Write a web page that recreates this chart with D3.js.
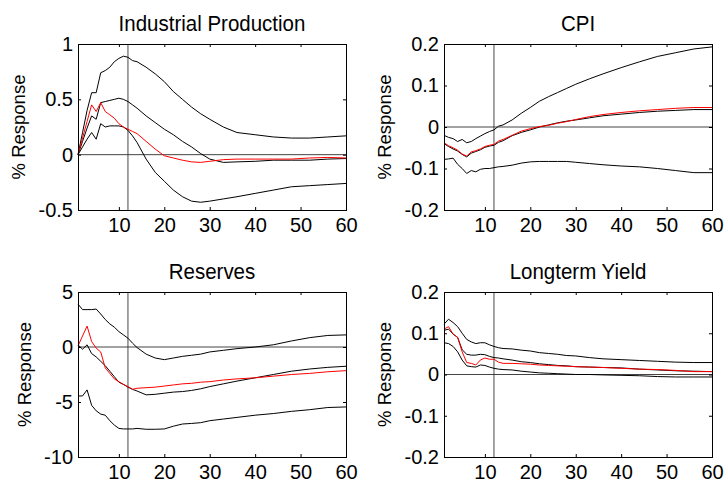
<!DOCTYPE html>
<html>
<head>
<meta charset="utf-8">
<script src="https://cdn.jsdelivr.net/npm/d3@7"></script>
<style>
  body { margin: 0; background: #fff; }
  svg text { font-family: "Liberation Sans", Arial, sans-serif; fill: #000; }
</style>
</head>
<body>
<div id="chart"></div>
<script>
var steps = [1,2,3,4,5,6,7,8,9,10,11,12,13,14,16,18,20,22,24,26,28,30,33,36,40,44,48,52,56,60];

var titles = ["Industrial Production", "CPI", "Reserves", "Longterm Yield"];
var xTicks = [10, 20, 30, 40, 50, 60];
var markLine = 12;

// y ticks per panel
var ipTicks = [-0.5, 0, 0.5, 1],        ipTickLabels = ["-0.5", "0", "0.5", "1"];
var cpiTicks = [-0.2, -0.1, 0, 0.1, 0.2], cpiTickLabels = ["-0.2", "-0.1", "0", "0.1", "0.2"];
var resTicks = [-10, -5, 0, 5],          resTickLabels = ["-10", "-5", "0", "5"];
var ltyTicks = [-0.2, -0.1, 0, 0.1, 0.2], ltyTickLabels = ["-0.2", "-0.1", "0", "0.1", "0.2"];

// Industrial Production
var ipUpper  = [0,0.2,0.4,0.56,0.56,0.74,0.76,0.79,0.84,0.87,0.89,0.88,0.85,0.84,0.79,0.73,0.66,0.57,0.5,0.43,0.37,0.32,0.25,0.2,0.18,0.16,0.15,0.15,0.16,0.17];
var ipMedian = [0,0.12,0.24,0.35,0.32,0.47,0.48,0.49,0.5,0.51,0.5,0.48,0.45,0.42,0.35,0.29,0.23,0.18,0.12,0.07,0.01,-0.04,-0.07,-0.065,-0.06,-0.05,-0.05,-0.05,-0.04,-0.035];
var ipLower  = [0,0.07,0.14,0.2,0.14,0.28,0.25,0.26,0.26,0.26,0.25,0.22,0.17,0.11,-0.04,-0.16,-0.24,-0.32,-0.38,-0.42,-0.43,-0.42,-0.4,-0.38,-0.35,-0.32,-0.29,-0.28,-0.27,-0.26];
var ipRed    = [0,0.15,0.3,0.45,0.39,0.47,0.39,0.36,0.33,0.28,0.25,0.23,0.21,0.19,0.12,0.05,-0.01,-0.03,-0.05,-0.065,-0.07,-0.06,-0.045,-0.04,-0.04,-0.04,-0.04,-0.03,-0.025,-0.03];

// CPI
var cpiUpper  = [-0.02,-0.025,-0.028,-0.035,-0.03,-0.038,-0.035,-0.028,-0.022,-0.016,-0.011,-0.007,0.002,0.005,0.017,0.033,0.047,0.062,0.073,0.083,0.093,0.103,0.116,0.128,0.143,0.157,0.17,0.179,0.188,0.193];
var cpiMedian = [-0.04,-0.047,-0.053,-0.058,-0.066,-0.072,-0.063,-0.059,-0.055,-0.049,-0.046,-0.044,-0.037,-0.033,-0.021,-0.013,-0.007,0,0.005,0.01,0.014,0.017,0.022,0.027,0.031,0.035,0.038,0.04,0.042,0.042];
var cpiLower  = [-0.078,-0.077,-0.075,-0.09,-0.1,-0.112,-0.105,-0.108,-0.102,-0.1,-0.1,-0.098,-0.096,-0.095,-0.092,-0.087,-0.084,-0.083,-0.083,-0.083,-0.083,-0.085,-0.088,-0.091,-0.094,-0.096,-0.1,-0.105,-0.11,-0.11];
var cpiRed    = [-0.038,-0.045,-0.05,-0.056,-0.065,-0.07,-0.06,-0.057,-0.053,-0.047,-0.044,-0.042,-0.034,-0.03,-0.02,-0.01,-0.004,0.001,0.004,0.009,0.013,0.018,0.025,0.03,0.035,0.039,0.042,0.045,0.047,0.047];

// Reserves
var resUpper  = [3.9,3.4,3.4,3.4,3.45,3.0,2.5,2.1,1.8,1.4,1.1,0.8,0.35,-0.05,-0.65,-1.0,-1.15,-1.0,-0.85,-0.75,-0.65,-0.45,-0.3,-0.15,0,0.2,0.55,0.85,1.05,1.1];
var resMedian = [0.2,-0.2,0.2,-0.6,-0.9,-1.3,-1.7,-2.2,-2.7,-3.2,-3.4,-3.65,-3.85,-4.0,-4.35,-4.3,-4.2,-4.1,-4.05,-3.95,-3.8,-3.6,-3.35,-3.1,-2.8,-2.5,-2.2,-2.0,-1.85,-1.75];
var resLower  = [-4.45,-4.45,-3.9,-5.3,-5.8,-6.1,-6.2,-6.7,-7.1,-7.4,-7.45,-7.45,-7.45,-7.4,-7.48,-7.48,-7.45,-7.2,-7.0,-6.95,-6.88,-6.7,-6.55,-6.4,-6.2,-6.05,-5.85,-5.7,-5.5,-5.45];
var resRed    = [0.1,1.0,1.9,0.5,-0.1,-0.45,-1.9,-2.4,-2.9,-3.15,-3.4,-3.6,-3.85,-3.75,-3.7,-3.65,-3.55,-3.45,-3.35,-3.3,-3.2,-3.15,-3.0,-2.9,-2.8,-2.65,-2.5,-2.4,-2.25,-2.15];

// Longterm Yield
var ltyUpper  = [0.122,0.134,0.126,0.116,0.1,0.085,0.079,0.075,0.077,0.077,0.072,0.068,0.065,0.063,0.062,0.059,0.057,0.053,0.051,0.049,0.046,0.045,0.041,0.038,0.036,0.034,0.032,0.03,0.029,0.029];
var ltyMedian = [0.107,0.11,0.098,0.09,0.06,0.049,0.047,0.047,0.049,0.048,0.044,0.041,0.04,0.038,0.035,0.031,0.029,0.026,0.024,0.022,0.021,0.019,0.018,0.017,0.016,0.013,0.011,0.009,0.008,0.007];
var ltyLower  = [0.077,0.075,0.068,0.055,0.035,0.021,0.019,0.018,0.023,0.022,0.018,0.015,0.013,0.012,0.011,0.008,0.006,0.004,0.003,0.002,0.001,0,0,-0.001,-0.002,-0.003,-0.005,-0.006,-0.006,-0.006];
var ltyRed    = [0.11,0.116,0.098,0.09,0.055,0.029,0.027,0.023,0.035,0.04,0.037,0.037,0.03,0.027,0.027,0.026,0.025,0.023,0.022,0.021,0.02,0.019,0.018,0.017,0.015,0.013,0.012,0.01,0.007,0.007];

var panels = [
  {title: titles[0], ticks: ipTicks,  labels: ipTickLabels,  lines: [ipUpper, ipMedian, ipLower],    red: ipRed,  left: 78,  top: 44,  h: 166},
  {title: titles[1], ticks: cpiTicks, labels: cpiTickLabels, lines: [cpiUpper, cpiMedian, cpiLower], red: cpiRed, left: 444, top: 44,  h: 166},
  {title: titles[2], ticks: resTicks, labels: resTickLabels, lines: [resUpper, resMedian, resLower], red: resRed, left: 78,  top: 292, h: 165},
  {title: titles[3], ticks: ltyTicks, labels: ltyTickLabels, lines: [ltyUpper, ltyMedian, ltyLower], red: ltyRed, left: 444, top: 292, h: 165}
];

var width = 724, height = 482, pw = 268;

var svg = d3.select("#chart").append("svg")
    .attr("width", width)
    .attr("height", height);

panels.forEach(function(p) {
  var yMin = p.ticks[0], yMax = p.ticks[p.ticks.length - 1];
  var x = d3.scaleLinear().domain([1, 60]).range([0, pw]);
  var y = d3.scaleLinear().domain([yMin, yMax]).range([p.h, 0]);

  var g = svg.append("g").attr("transform", "translate(" + p.left + "," + p.top + ")");

  var line = d3.line()
      .x(function(d, i) { return x(steps[i]); })
      .y(function(d) { return y(d); });

  // zero line and the marker at horizon 12
  g.append("line")
      .attr("x1", x(1)).attr("x2", x(60))
      .attr("y1", y(0)).attr("y2", y(0))
      .attr("stroke", "#444").attr("stroke-width", 1);
  g.append("line")
      .attr("x1", x(markLine)).attr("x2", x(markLine))
      .attr("y1", 0).attr("y2", p.h)
      .attr("stroke", "#333").attr("stroke-width", 0.9);

  p.lines.forEach(function(s) {
    g.append("path").datum(s)
        .attr("d", line)
        .attr("fill", "none")
        .attr("stroke", "#000")
        .attr("stroke-width", 1);
  });
  g.append("path").datum(p.red)
      .attr("d", line)
      .attr("fill", "none")
      .attr("stroke", "#ff0000")
      .attr("stroke-width", 1);

  // axes, ticks pointing inwards on all four sides
  var fs = 20;
  g.append("g")
      .attr("transform", "translate(0," + p.h + ")")
      .call(d3.axisBottom(x).tickValues(xTicks).tickSizeInner(-3).tickSizeOuter(0).tickPadding(8))
      .call(function(a) { a.select(".domain").remove(); })
      .selectAll("text").style("font-size", fs + "px");
  g.append("g")
      .call(d3.axisTop(x).tickValues(xTicks).tickSizeInner(-3).tickSizeOuter(0).tickFormat(""))
      .call(function(a) { a.select(".domain").remove(); });
  var yAxis = g.append("g")
      .call(d3.axisLeft(y).tickValues(p.ticks).tickSizeInner(-3).tickSizeOuter(0).tickPadding(5)
        .tickFormat(function(d, i) { return p.labels[i]; }))
      .call(function(a) { a.select(".domain").remove(); });
  yAxis.selectAll("text").style("font-size", fs + "px");
  g.append("g")
      .attr("transform", "translate(" + pw + ",0)")
      .call(d3.axisRight(y).tickValues(p.ticks).tickSizeInner(-3).tickSizeOuter(0).tickFormat(""))
      .call(function(a) { a.select(".domain").remove(); });

  g.selectAll(".tick line").attr("stroke", "#000");
  g.selectAll(".tick text").attr("fill", "#000").attr("font-family", null);

  g.append("rect")
      .attr("x", 0.5).attr("y", 0.5)
      .attr("width", pw).attr("height", p.h)
      .attr("fill", "none")
      .attr("stroke", "#000")
      .attr("stroke-width", 1);

  // title glyphs in the original are a little taller than wide
  g.append("text")
      .attr("transform", "translate(" + (pw / 2) + ",-13) scale(1,1.12)")
      .attr("text-anchor", "middle")
      .style("font-size", "20.5px")
      .text(p.title);

  // y label sits a fixed gap left of the widest tick label
  var minLeft = d3.min(yAxis.selectAll("text").nodes(), function(n) { return n.getBBox().x; }) - 5;
  g.append("text")
      .attr("transform", "translate(" + (minLeft - 15) + "," + (p.h / 2) + ") rotate(-90)")
      .attr("text-anchor", "middle")
      .attr("dy", "0.35em")
      .style("font-size", "18.5px")
      .text("% Response");
});
</script>
</body>
</html>
